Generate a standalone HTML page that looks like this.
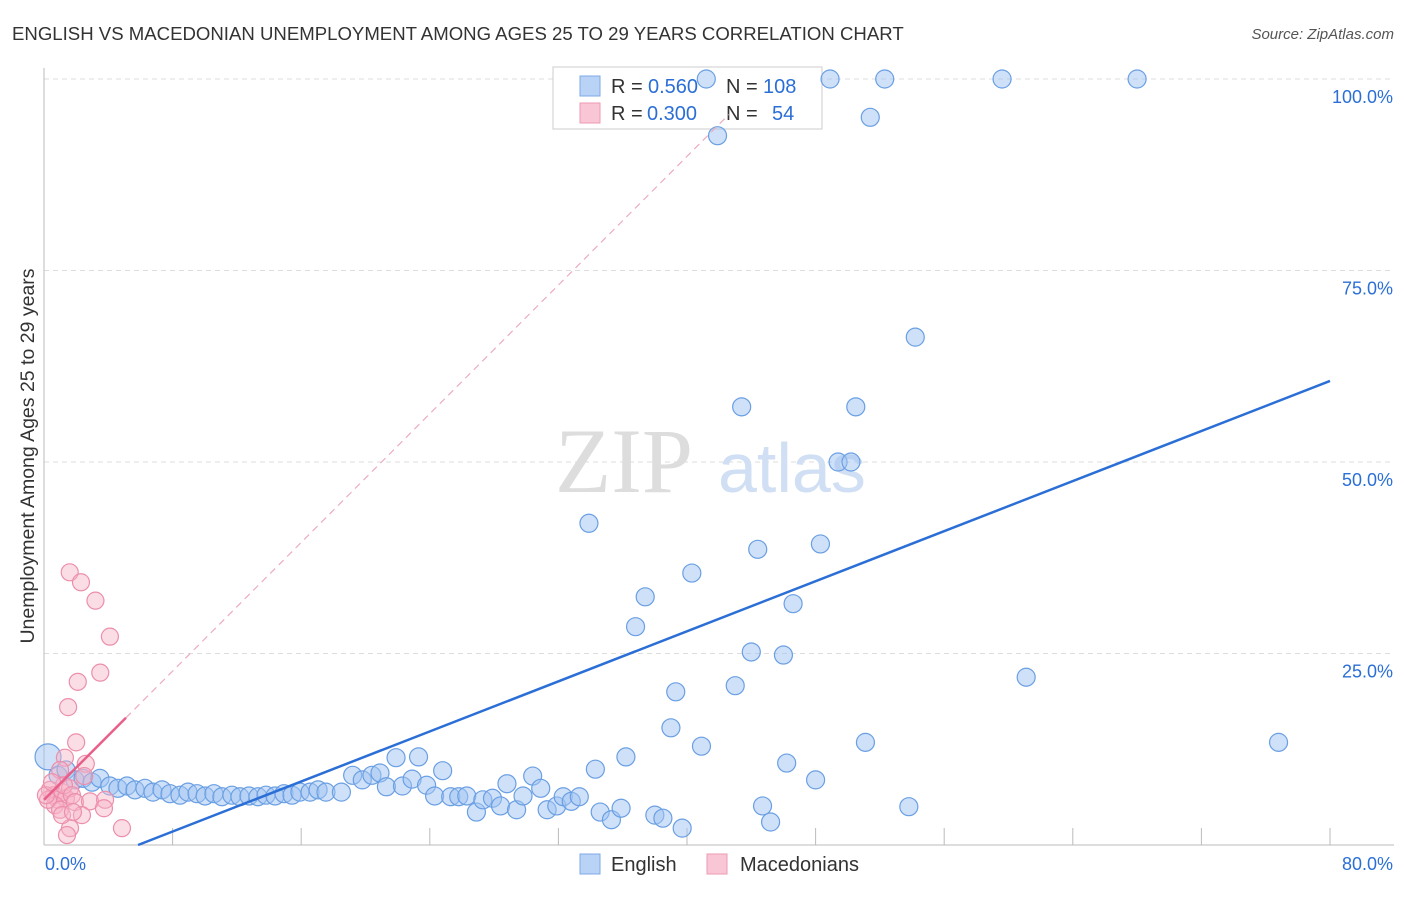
<!DOCTYPE html>
<html><head><meta charset="utf-8"><style>
body{margin:0;background:#fff;font-family:"Liberation Sans",sans-serif}
svg text{font-family:"Liberation Sans",sans-serif}
</style></head><body>
<svg id="c" width="1406" height="892" xmlns="http://www.w3.org/2000/svg">
<text x="12" y="40" font-size="18.6" fill="#333">ENGLISH VS MACEDONIAN UNEMPLOYMENT AMONG AGES 25 TO 29 YEARS CORRELATION CHART</text>
<text x="1394" y="39" font-size="15" fill="#555" text-anchor="end" font-style="italic">Source: ZipAtlas.com</text>
<text transform="translate(34,456) rotate(-90)" font-size="19.5" fill="#333" text-anchor="middle">Unemployment Among Ages 25 to 29 years</text>
<g id="grid"></g>
<g id="ticks"></g>
<text x="555" y="492" font-size="92" fill="#ddd" style="font-family:'Liberation Serif',serif">ZIP</text>
<text x="718" y="492" font-size="70" fill="#d0dff3">atlas</text>
<g>
<rect x="553" y="67" width="269" height="62" fill="#fff" stroke="#ccc"/>
<rect x="580" y="76" width="20" height="20" fill="#b8d3f6" stroke="#7fa9e6"/>
<rect x="580" y="103" width="20" height="20" fill="#f9c6d5" stroke="#ee9ab3"/>
<text x="611" y="93" font-size="20" fill="#333">R =</text>
<text x="648" y="93" font-size="20" fill="#2b6fd6">0.560</text>
<text x="726" y="93" font-size="20" fill="#333">N =</text>
<text x="763" y="93" font-size="20" fill="#2b6fd6">108</text>
<text x="611" y="120" font-size="20" fill="#333">R =</text>
<text x="647" y="120" font-size="20" fill="#2b6fd6">0.300</text>
<text x="726" y="120" font-size="20" fill="#333">N =</text>
<text x="772" y="120" font-size="20" fill="#2b6fd6">54</text>
</g>
<g id="marks"></g>
<g>
<rect x="580" y="854" width="20" height="20" fill="#b8d3f6" stroke="#7fa9e6"/>
<text x="611" y="871" font-size="20" fill="#333">English</text>
<rect x="707" y="854" width="20" height="20" fill="#f9c6d5" stroke="#ee9ab3"/>
<text x="740" y="871" font-size="20" fill="#333">Macedonians</text>
</g>
</svg>
<script>
const yTicks=[25,50,75,100];
const yTickLabels=["25.0%","50.0%","75.0%","100.0%"];
const xTicks=[0,8,16,24,32,40,48,56,64,72,80];
const englishX=[41.2,48.9,52.3,59.6,68.0,51.4,41.9,54.2,43.4,50.5,49.4,50.2,33.9,44.4,48.3,40.3,37.4,46.6,36.8,44.0,46.0,61.1,39.3,43.0,39.0,40.9,51.1,76.8,36.2,34.3,46.2,48.0,44.7,45.2,53.8,34.6,35.3,35.9,38.0,38.5,39.7,0.25,
0.87,1.37,1.93,2.43,2.99,3.48,4.1,4.6,5.16,5.66,6.28,6.78,7.34,7.84,8.46,8.96,9.52,10.02,10.57,11.07,11.69,12.19,12.75,13.31,13.81,14.37,14.93,15.43,15.92,16.55,17.05,17.54,
18.5,19.2,19.8,20.4,20.9,21.9,23.3,21.3,22.3,22.9,23.8,24.8,24.3,25.3,25.8,26.3,26.9,27.3,27.9,28.4,28.8,29.4,29.8,30.4,30.9,31.3,31.9,32.3,32.8,33.3];
const englishY=[100,100,100,100,100,95.0,92.6,66.3,57.2,57.2,50.0,50.0,42.0,38.6,39.3,35.5,32.4,31.5,28.5,25.2,24.8,21.9,20.0,20.8,15.3,12.9,13.4,13.4,11.5,9.9,10.7,8.5,5.1,3.0,5.0,4.3,3.3,4.8,3.9,3.5,2.2,11.5,
9.1,9.8,8.5,8.7,8.2,8.7,7.7,7.4,7.7,7.2,7.4,6.9,7.2,6.7,6.5,6.9,6.7,6.4,6.7,6.3,6.5,6.3,6.4,6.3,6.5,6.4,6.7,6.5,6.9,6.9,7.2,6.9,
6.9,9.1,8.5,9.1,9.4,11.4,11.5,7.6,7.7,8.6,7.8,9.7,6.4,6.3,6.3,6.4,4.3,5.9,6.1,5.1,8.0,4.6,6.4,9.0,7.4,4.6,5.1,6.3,5.7,6.3];
const macX=[1.6,2.3,3.2,4.1,2.1,3.5,1.5,2.0,2.6,1.3,1.0,0.37,0.62,0.87,1.12,1.37,1.62,0.68,0.25,1.24,1.74,1.0,1.93,2.86,3.8,3.73,2.5,4.85,1.62,1.43,1.12,2.36,1.8,0.12,0.5];
const macY=[35.6,34.3,31.9,27.2,21.3,22.5,18.0,13.4,10.6,11.4,9.8,7.2,6.5,5.9,6.9,6.1,7.4,5.2,5.9,7.8,6.5,4.6,5.6,5.7,5.9,4.8,9.0,2.2,2.2,1.3,3.9,3.9,4.3,6.5,8.2];
const blueTrend=[-4.78,0.817], blueRange=[5.85,80];
const pinkTrend=[5.9,2.1], pinkSolid=[0,5.1], pinkDash=[5.1,42.6];
const X=v=>44+v*1286/80, Y=v=>845-v*7.66;
const NS="http://www.w3.org/2000/svg";
function mk(t,a,p){const e=document.createElementNS(NS,t);for(const k in a)e.setAttribute(k,a[k]);(p||document.getElementById('marks')).appendChild(e);return e;}
const g=document.getElementById('grid');
yTicks.forEach((t,i)=>{
 const l=mk('line',{x1:44,x2:1394,y1:Y(t),y2:Y(t),stroke:'#ddd','stroke-dasharray':'5,4'},g);
 
 
 const tx=mk('text',{x:1393,y:Y(t)+24,'font-size':18,fill:'#2b6fd6','text-anchor':'end'},g);tx.textContent=yTickLabels[i];
 
 
});
const tg=document.getElementById('ticks');
mk('line',{x1:44,x2:44,y1:68,y2:845,stroke:'#bbb'},tg);
mk('line',{x1:44,x2:1394,y1:845,y2:845,stroke:'#bbb'},tg);
xTicks.slice(1).forEach(t=>{const l=mk('line',{x1:X(t),x2:X(t),y1:828,y2:845,stroke:'#bbb'},tg);
 
 });
let a=mk('text',{x:45,y:870,'font-size':18,fill:'#2b6fd6'},tg);a.textContent='0.0%';
let b=mk('text',{x:1393,y:870,'font-size':18,fill:'#2b6fd6','text-anchor':'end'},tg);b.textContent='80.0%';
englishX.forEach((x,i)=>{const c=mk('circle',{cx:X(x),cy:Y(englishY[i]),r:(i==41?13:9),fill:'rgba(160,196,242,0.5)',stroke:'#6a9fe3','stroke-width':1.2});
 
 });
macX.forEach((x,i)=>{const c=mk('circle',{cx:X(x),cy:Y(macY[i]),r:8.5,fill:'rgba(247,180,200,0.45)',stroke:'#ec8fab','stroke-width':1.2});
 
 });
let l1=mk('line',{x1:X(blueRange[0]),y1:Y(blueTrend[0]+blueTrend[1]*blueRange[0]),x2:X(blueRange[1]),y2:Y(blueTrend[0]+blueTrend[1]*blueRange[1]),stroke:'#2b6fd6','stroke-width':2.5});


let l2=mk('line',{x1:X(pinkDash[0]),y1:Y(pinkTrend[0]+pinkTrend[1]*pinkDash[0]),x2:X(pinkDash[1]),y2:Y(pinkTrend[0]+pinkTrend[1]*pinkDash[1]),stroke:'#eeaabd','stroke-width':1.2,'stroke-dasharray':'7,5'});


let l3=mk('line',{x1:X(pinkSolid[0]),y1:Y(pinkTrend[0]+pinkTrend[1]*pinkSolid[0]),x2:X(pinkSolid[1]),y2:Y(pinkTrend[0]+pinkTrend[1]*pinkSolid[1]),stroke:'#e8608a','stroke-width':2.5});


</script>
</body></html>
